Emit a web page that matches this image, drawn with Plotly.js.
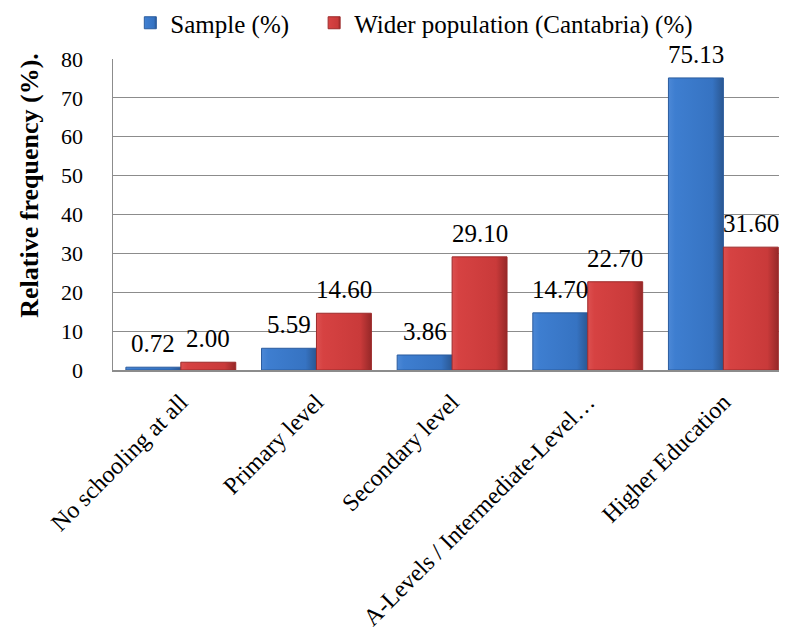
<!DOCTYPE html>
<html>
<head>
<meta charset="utf-8">
<script src="https://cdn.plot.ly/plotly-3.0.1.min.js"></script>
<style>
  html, body { margin: 0; padding: 0; background: #ffffff; }
  #chart { width: 792px; height: 631px; }
</style>
</head>
<body>
<div id="chart"></div>
<script>
// Educational level: survey sample vs. wider population of Cantabria
const categories = [
  "No schooling at all",
  "Primary level",
  "Secondary level",
  "A-Levels / Intermediate-Level…",
  "Higher Education"
];
const sampleValues = [0.72, 5.59, 3.86, 14.70, 75.13];
const populationValues = [2.00, 14.60, 29.10, 22.70, 31.60];
const seriesNames = ["Sample (%)", "Wider population (Cantabria) (%)"];
const yTicks = [0, 10, 20, 30, 40, 50, 60, 70, 80];
const yTitle = "Relative frequency (%).";

const FONT = "'Liberation Serif', 'Times New Roman', serif";
const BAR_GAP = 0.19;
const half = (1 - BAR_GAP) / 4; // offset of each bar centre from the category centre

// shading for the bevelled bar faces: [offset, colour]
const blueShade = [[0, "#4c88d6"], [0.12, "#3e7ed0"], [0.8, "#3673c2"], [1, "#2a5792"]];
const redShade = [[0, "#dc5050"], [0.12, "#d64242"], [0.8, "#c93a3a"], [1, "#962828"]];

const traces = [
  {
    type: "bar",
    name: seriesNames[0],
    x: categories,
    y: sampleValues,
    legend: "legend",
    marker: { color: "#3b79c8", line: { color: "#2b5c9e", width: 1 } },
    hoverinfo: "skip"
  },
  {
    type: "bar",
    name: seriesNames[1],
    x: categories,
    y: populationValues,
    legend: "legend2",
    marker: { color: "#d43e3e", line: { color: "#9c2a2a", width: 1 } },
    hoverinfo: "skip"
  }
];

// value labels above each bar, placed from the same values as the bars
const annotations = [];
[sampleValues, populationValues].forEach((vals, s) => {
  vals.forEach((v, i) => {
    annotations.push({
      x: i + (s === 0 ? -half : half),
      y: v,
      xref: "x",
      yref: "y",
      text: v.toFixed(2),
      showarrow: false,
      yanchor: "bottom",
      yshift: 8,
      font: { family: FONT, size: 25, color: "#000000" }
    });
  });
});

// vertical axis title, set a little above the plot centre
annotations.push({
  xref: "paper",
  yref: "paper",
  x: -0.125,
  y: 0.595,
  xanchor: "center",
  yanchor: "middle",
  textangle: -90,
  text: "<b>" + yTitle + "</b>",
  showarrow: false,
  font: { family: FONT, size: 26, color: "#000000" }
});

const legendBase = {
  orientation: "h",
  xref: "paper",
  xanchor: "left",
  y: 1.0,
  yref: "container",
  yanchor: "top",
  font: { family: FONT, size: 25, color: "#000000" },
  itemwidth: 30
};

const layout = {
  width: 792,
  height: 631,
  margin: { l: 113, r: 13, t: 59, b: 261 },
  paper_bgcolor: "#ffffff",
  plot_bgcolor: "#ffffff",
  barmode: "group",
  bargap: BAR_GAP,
  bargroupgap: 0,
  font: { family: FONT, color: "#000000" },
  showlegend: true,
  legend: Object.assign({}, legendBase, { x: 0.026 }),
  legend2: Object.assign({}, legendBase, { x: 0.302 }),
  xaxis: {
    type: "category",
    range: [-0.5, 4.41],
    tickangle: -45,
    tickfont: { family: FONT, size: 24, color: "#000000" },
    ticks: "",
    ticklabelstandoff: 7,
    showgrid: false,
    showline: true,
    linecolor: "#8c8c8c",
    linewidth: 1.5,
    zeroline: false
  },
  yaxis: {
    range: [0, 80],
    tickvals: yTicks,
    ticktext: yTicks.map(String),
    tickfont: { family: FONT, size: 22, color: "#000000" },
    ticks: "",
    ticklabelstandoff: 24,
    showgrid: true,
    gridcolor: "#8c8c8c",
    gridwidth: 1,
    showline: true,
    linecolor: "#8c8c8c",
    linewidth: 1.5,
    zeroline: false
  },
  annotations: annotations
};

function addShading(gd) {
  const NS = "http://www.w3.org/2000/svg";
  const svg = gd.querySelector("svg.main-svg");
  let defs = svg.querySelector("defs");
  if (!defs) { defs = document.createElementNS(NS, "defs"); svg.insertBefore(defs, svg.firstChild); }
  const ids = ["shadeSample", "shadePopulation"];
  [blueShade, redShade].forEach((stops, k) => {
    const g = document.createElementNS(NS, "linearGradient");
    g.setAttribute("id", ids[k]);
    g.setAttribute("x1", "0"); g.setAttribute("y1", "0");
    g.setAttribute("x2", "1"); g.setAttribute("y2", "0");
    stops.forEach(([o, c]) => {
      const st = document.createElementNS(NS, "stop");
      st.setAttribute("offset", o);
      st.setAttribute("stop-color", c);
      g.appendChild(st);
    });
    defs.appendChild(g);
  });
  gd.querySelectorAll(".barlayer .trace").forEach((tr, k) => {
    tr.querySelectorAll("path").forEach(p => { p.style.fill = "url(#" + ids[k] + ")"; });
  });
  // legend swatches: first legend holds the sample series, second the population series
  ["legend", "legend2"].forEach((cls, k) => {
    gd.querySelectorAll("." + cls + " .legendpoints path").forEach(p => {
      p.style.fill = "url(#" + ids[k] + ")";
    });
  });
}

Plotly.newPlot("chart", traces, layout, { displayModeBar: false, staticPlot: true })
  .then(addShading);
</script>
</body>
</html>
